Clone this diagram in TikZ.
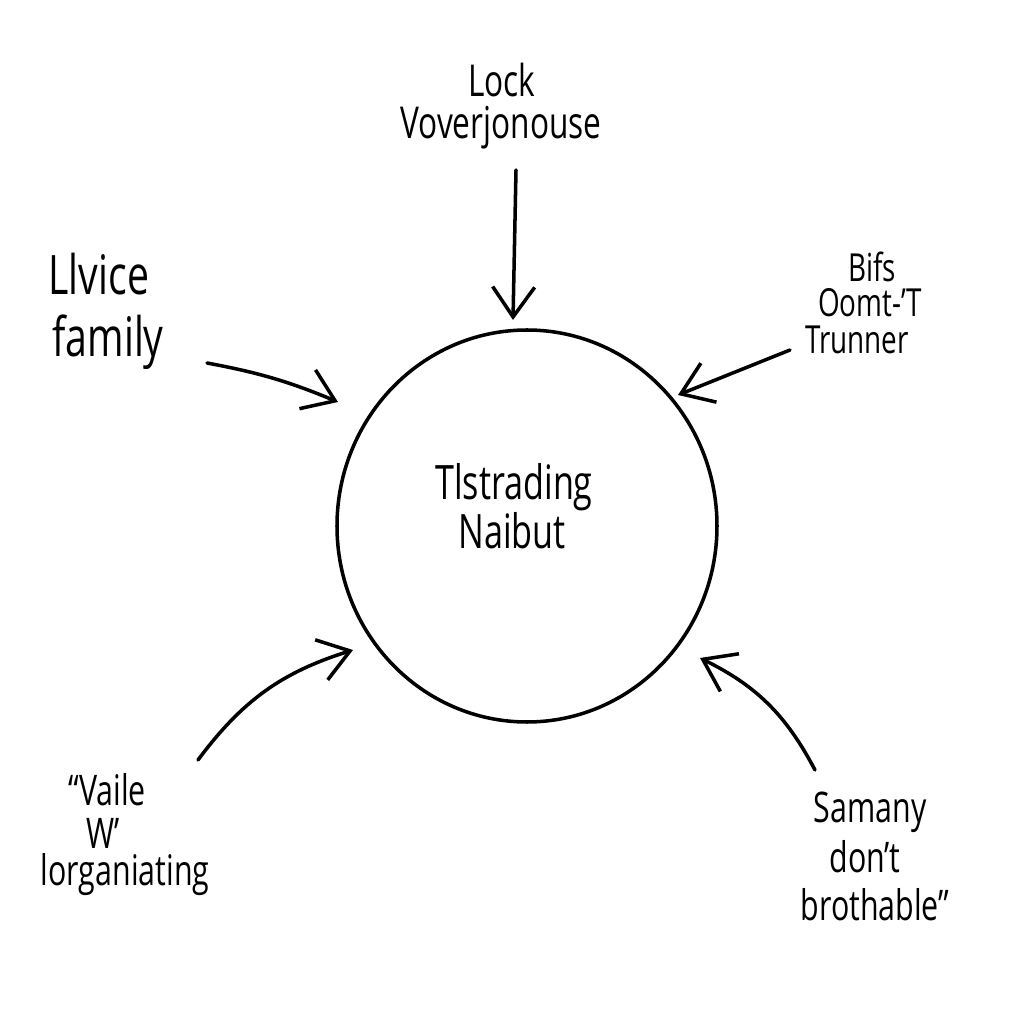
\documentclass[tikz,border=0pt]{standalone}
\usepackage{fontspec}
\setmainfont{Open Sans}
\usetikzlibrary{arrows.meta,shapes.geometric}
\tikzset{
  hand/.style={line width=1pt, line cap=round, -{Straight Barb[length=3mm,width=4.2mm,line width=1pt]}},
  txt/.style={inner sep=0pt, font=#1, xscale=0.72, transform shape},
  txt/.default={\fontsize{13}{15}\selectfont}
}
\begin{document}
\begin{tikzpicture}
\useasboundingbox[fill=white] (0,0) rectangle (10.24,10.24);
% central circle
\node[draw, line width=1pt, ellipse, minimum width=3.8cm, minimum height=3.92cm, inner sep=0pt] (hub) at (5.27,4.98) {};
% centre text
\node[txt={\fontsize{13.5}{15}\selectfont}] (c1) at (5.14,5.37) {Tlstrading};
\node[txt={\fontsize{13.5}{15}\selectfont}] (c2) at (5.12,4.93) {Naibut};
% top
\node[txt={\fontsize{12.5}{14}\selectfont}] (t1) at (5.02,9.44) {Lock};
\node[txt={\fontsize{12.5}{14}\selectfont}] (t2) at (5.01,8.96) {Voverjonouse};
% left
\node[txt={\fontsize{15.5}{18}\selectfont}, anchor=west] (l1) at (0.48,7.50) {Llvice};
\node[txt={\fontsize{15.5}{18}\selectfont}, anchor=west] (l2) at (0.52,6.82) {family};
% right top
\node[txt={\fontsize{11}{13}\selectfont}] (r1) at (8.72,7.57) {Bifs};
\node[txt={\fontsize{11}{13}\selectfont}] (r2) at (8.70,7.21) {Oomt-’T};
\node[txt={\fontsize{11}{13}\selectfont}] (r3) at (8.57,6.84) {Trunner};
% bottom left
\node[txt={\fontsize{12}{14}\selectfont}] (b1) at (1.07,2.34) {“Vaile};
\node[txt={\fontsize{12}{14}\selectfont}] (b2) at (1.03,1.91) {W’};
\node[txt={\fontsize{12}{14}\selectfont}] (b3) at (1.25,1.49) {lorganiating};
% bottom right
\node[txt={\fontsize{12}{14}\selectfont}] (s1) at (8.70,2.12) {Samany};
\node[txt={\fontsize{12}{14}\selectfont}] (s2) at (8.65,1.67) {don’t};
\node[txt={\fontsize{12}{14}\selectfont}] (s3) at (8.75,1.19) {brothable”};
% arrow endpoints
\coordinate (aT0) at (5.16,8.54); \coordinate (aT1) at (5.13,7.04);
\coordinate (aL0) at (2.07,6.61); \coordinate (aL1) at (3.38,6.22);
\coordinate (aR0) at (7.90,6.74); \coordinate (aR1) at (6.78,6.29);
\coordinate (aBL0) at (1.98,2.64); \coordinate (aBL1) at (3.53,3.74);
\coordinate (aBR0) at (8.15,2.54); \coordinate (aBR1) at (7.00,3.66);
\draw[hand] (aT0) -- (aT1);
\draw[hand] (aL0) to[bend left=6] (aL1);
\draw[hand] (aR0) -- (aR1);
\draw[hand] (aBL0) to[bend left=18] (aBL1);
\draw[hand] (aBR0) to[bend right=18] (aBR1);
\end{tikzpicture}
\end{document}
